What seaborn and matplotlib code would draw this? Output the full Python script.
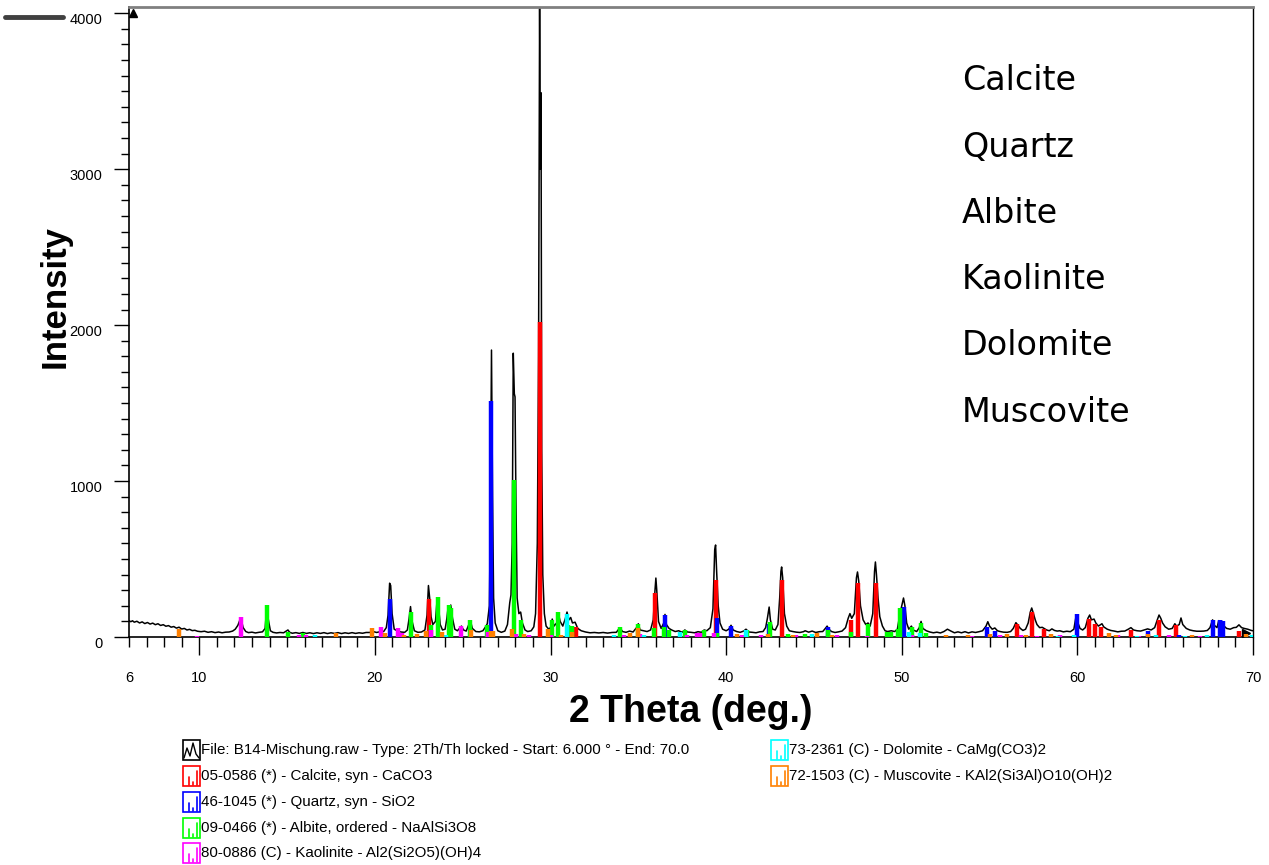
import matplotlib
matplotlib.use("Agg")
import matplotlib.pyplot as plt
import seaborn as sns
from matplotlib.lines import Line2D
from matplotlib.patches import Rectangle
from matplotlib.ticker import MultipleLocator
import matplotlib.transforms as mtransforms

raw_pattern = [
    (6.0, 105), (6.1, 98), (6.2, 104), (6.3, 95), (6.45, 101), (6.6, 90), (6.75, 97), (6.9, 86),
    (7.05, 93), (7.2, 83), (7.35, 89), (7.5, 79), (7.65, 85), (7.8, 74), (7.95, 79), (8.1, 69),
    (8.25, 73), (8.4, 63), (8.55, 67), (8.7, 57), (8.85, 63), (9.0, 51), (9.15, 55), (9.3, 45),
    (9.45, 49), (9.6, 41), (9.75, 43), (9.9, 37), (10.1, 34), (10.3, 37), (10.5, 30), (10.7, 34),
    (10.9, 28), (11.1, 32), (11.3, 27), (11.5, 31), (11.7, 32), (11.9, 38), (12.05, 50), (12.2, 75),
    (12.3, 105), (12.38, 115), (12.5, 60), (12.65, 35), (12.8, 28), (13.0, 31), (13.2, 26), (13.4, 30),
    (13.6, 33), (13.75, 55), (13.85, 200), (13.92, 120), (14.05, 40), (14.2, 30), (14.4, 26), (14.6, 29),
    (14.8, 27), (14.95, 38), (15.05, 45), (15.15, 30), (15.3, 24), (15.5, 28), (15.7, 23), (15.9, 29),
    (16.1, 23), (16.3, 27), (16.5, 22), (16.7, 27), (16.9, 23), (17.1, 28), (17.3, 22), (17.5, 27),
    (17.7, 23), (17.9, 28), (18.1, 22), (18.3, 27), (18.5, 23), (18.7, 28), (18.9, 23), (19.1, 27),
    (19.3, 24), (19.5, 29), (19.7, 29), (19.9, 35), (20.1, 29), (20.3, 34), (20.5, 35), (20.65, 60),
    (20.75, 140), (20.84, 345), (20.9, 330), (20.98, 150), (21.1, 50), (21.3, 38), (21.5, 32), (21.7, 30),
    (21.85, 45), (21.95, 120), (22.03, 195), (22.1, 110), (22.25, 40), (22.45, 30), (22.65, 32), (22.85, 45),
    (22.97, 140), (23.05, 330), (23.12, 250), (23.2, 130), (23.3, 80), (23.45, 100), (23.55, 250), (23.62, 200),
    (23.72, 80), (23.85, 45), (24.0, 50), (24.1, 120), (24.18, 200), (24.25, 175), (24.32, 205), (24.42, 120),
    (24.55, 50), (24.7, 40), (24.85, 60), (24.93, 70), (25.05, 45), (25.2, 38), (25.35, 80), (25.45, 100),
    (25.55, 55), (25.75, 35), (25.95, 33), (26.15, 40), (26.3, 65), (26.4, 85), (26.52, 200), (26.58, 800),
    (26.64, 1840), (26.7, 900), (26.76, 250), (26.85, 90), (27.0, 40), (27.2, 30), (27.4, 38), (27.55, 80),
    (27.68, 220), (27.75, 270), (27.82, 600), (27.88, 1820), (27.94, 1560), (27.98, 1540), (28.03, 900), (28.1, 250),
    (28.2, 150), (28.3, 160), (28.4, 90), (28.55, 45), (28.7, 35), (28.9, 40), (29.05, 65), (29.15, 150),
    (29.25, 600), (29.32, 1800), (29.38, 4040), (29.42, 3000), (29.46, 3490), (29.5, 1200), (29.56, 400), (29.65, 150),
    (29.75, 70), (29.9, 50), (30.0, 60), (30.1, 115), (30.2, 70), (30.35, 90), (30.45, 150), (30.55, 100),
    (30.7, 70), (30.85, 120), (30.94, 160), (31.05, 110), (31.15, 125), (31.25, 90), (31.4, 95), (31.55, 55),
    (31.75, 40), (32.0, 32), (32.25, 27), (32.5, 29), (32.75, 26), (33.0, 29), (33.25, 25), (33.5, 29),
    (33.75, 30), (33.95, 60), (34.1, 35), (34.3, 30), (34.5, 38), (34.7, 32), (34.9, 60), (35.0, 85),
    (35.1, 45), (35.3, 40), (35.5, 35), (35.7, 45), (35.85, 110), (35.95, 300), (36.0, 378), (36.05, 300),
    (36.15, 100), (36.3, 55), (36.45, 90), (36.52, 145), (36.6, 80), (36.75, 55), (36.9, 45), (37.1, 35),
    (37.3, 40), (37.5, 30), (37.65, 45), (37.8, 32), (38.0, 30), (38.2, 27), (38.4, 34), (38.6, 30),
    (38.75, 45), (38.9, 40), (39.1, 60), (39.25, 180), (39.35, 560), (39.4, 590), (39.46, 420), (39.55, 200),
    (39.65, 90), (39.8, 50), (40.0, 40), (40.15, 50), (40.28, 75), (40.4, 45), (40.6, 35), (40.8, 30),
    (41.0, 38), (41.13, 50), (41.3, 32), (41.5, 30), (41.7, 27), (41.9, 33), (42.1, 35), (42.25, 60),
    (42.35, 120), (42.45, 192), (42.52, 110), (42.65, 50), (42.8, 45), (42.95, 80), (43.05, 250), (43.12, 420),
    (43.16, 449), (43.22, 380), (43.32, 150), (43.45, 70), (43.6, 40), (43.8, 35), (44.0, 31), (44.2, 29),
    (44.4, 34), (44.5, 40), (44.7, 31), (44.9, 38), (45.1, 29), (45.3, 34), (45.5, 35), (45.65, 55),
    (45.75, 70), (45.85, 50), (46.0, 35), (46.2, 29), (46.4, 33), (46.6, 38), (46.8, 60), (46.95, 120),
    (47.05, 150), (47.15, 120), (47.3, 150), (47.42, 380), (47.48, 417), (47.55, 360), (47.65, 200), (47.8, 110),
    (47.95, 80), (48.08, 90), (48.2, 70), (48.35, 150), (48.45, 420), (48.5, 481), (48.56, 400), (48.65, 250),
    (48.75, 130), (48.9, 70), (49.05, 40), (49.2, 35), (49.4, 40), (49.6, 35), (49.75, 50), (49.9, 150),
    (50.0, 200), (50.1, 250), (50.18, 200), (50.28, 90), (50.4, 50), (50.55, 70), (50.65, 45), (50.85, 35),
    (51.0, 60), (51.1, 100), (51.2, 55), (51.4, 40), (51.6, 32), (51.8, 27), (52.0, 31), (52.2, 26),
    (52.4, 35), (52.6, 50), (52.8, 38), (53.0, 27), (53.2, 33), (53.4, 27), (53.6, 34), (53.8, 26),
    (54.0, 33), (54.2, 29), (54.4, 34), (54.6, 40), (54.8, 70), (54.9, 98), (55.0, 70), (55.15, 50),
    (55.3, 58), (55.45, 40), (55.6, 35), (55.8, 31), (56.0, 30), (56.2, 35), (56.35, 55), (56.5, 92),
    (56.62, 75), (56.75, 55), (56.9, 42), (57.05, 50), (57.2, 90), (57.32, 160), (57.4, 186), (57.5, 150),
    (57.6, 110), (57.7, 80), (57.85, 60), (58.0, 62), (58.1, 55), (58.25, 45), (58.4, 40), (58.55, 52),
    (58.7, 42), (58.85, 38), (59.0, 40), (59.2, 33), (59.4, 37), (59.6, 34), (59.8, 50), (59.92, 130),
    (60.0, 100), (60.15, 55), (60.3, 45), (60.45, 60), (60.6, 120), (60.7, 141), (60.8, 110), (60.95, 115),
    (61.05, 90), (61.2, 70), (61.4, 85), (61.5, 65), (61.7, 50), (61.9, 42), (62.1, 38), (62.3, 33),
    (62.5, 37), (62.7, 38), (62.9, 50), (63.05, 60), (63.2, 45), (63.4, 40), (63.6, 38), (63.8, 45),
    (64.0, 52), (64.2, 45), (64.4, 60), (64.55, 110), (64.65, 141), (64.75, 120), (64.85, 90), (65.0, 65),
    (65.2, 50), (65.4, 55), (65.55, 85), (65.65, 70), (65.8, 80), (65.9, 122), (66.0, 80), (66.2, 55),
    (66.4, 45), (66.6, 40), (66.8, 37), (67.0, 37), (67.2, 38), (67.4, 42), (67.55, 60), (67.7, 110),
    (67.8, 75), (67.95, 60), (68.05, 105), (68.15, 80), (68.25, 100), (68.35, 70), (68.5, 55), (68.7, 50),
    (68.9, 60), (69.05, 62), (69.2, 78), (69.35, 60), (69.5, 55), (69.7, 50), (69.9, 42), (70.0, 40),
]
raw_2theta = [p[0] for p in raw_pattern]
raw_counts = [p[1] for p in raw_pattern]

# --- reference stick patterns (position, scaled intensity) ---
calcite_pos = [23.06, 29.40, 31.44, 35.97, 39.40, 43.16, 47.12, 47.50, 48.51, 56.57, 57.40, 58.08,
               60.68, 60.98, 61.35, 63.05, 64.67, 65.60, 69.20]
calcite_int = [244, 2020, 64, 282, 365, 365, 109, 346, 346, 81, 160, 50,
               115, 83, 64, 45, 109, 77, 40]

quartz_pos = [20.86, 26.64, 36.54, 39.47, 40.29, 42.45, 45.79, 50.14, 54.87, 55.33, 59.96, 64.03,
              65.79, 67.74, 68.14, 68.31]
quartz_int = [244, 1513, 141, 122, 70, 83, 64, 192, 63, 40, 147, 38,
              15, 109, 110, 100]

albite_pos = [13.87, 15.04, 15.88, 22.04, 23.18, 23.58, 24.20, 24.32, 25.40, 26.38, 27.92, 28.30,
              30.10, 30.45, 31.00, 31.20, 33.96, 34.98, 35.90, 36.47, 36.75, 37.65, 38.75, 39.50,
              41.20, 42.50, 43.50, 44.50, 45.78, 47.10, 48.08, 49.14, 49.40, 49.77, 49.90, 50.56,
              51.10, 51.40]
albite_int = [205, 32, 25, 162, 77, 256, 205, 186, 109, 77, 1006, 109,
              109, 160, 77, 70, 62, 83, 58, 64, 45, 45, 45, 25,
              45, 95, 20, 20, 45, 30, 83, 30, 32, 50, 186, 64,
              90, 25]

kaolinite_pos = [9.90, 12.36, 15.70, 16.10, 20.36, 21.30, 21.55, 23.20, 24.90, 26.44, 28.05, 28.80,
                 30.00, 34.20, 35.10, 37.80, 38.34, 38.50, 39.30, 40.90, 42.00, 44.00, 46.30, 48.00,
                 50.60, 54.00, 55.60, 56.80, 57.70, 59.00, 62.30, 63.50, 65.20, 67.00]
kaolinite_int = [8, 128, 10, 10, 62, 55, 28, 45, 70, 30, 20, 15,
                 12, 10, 20, 15, 28, 28, 28, 12, 10, 10, 10, 8,
                 10, 8, 12, 10, 8, 10, 12, 8, 10, 8]

dolomite_pos = [16.60, 24.07, 30.94, 33.60, 35.30, 37.35, 41.13, 44.90, 50.40, 51.05, 58.90, 59.80,
                63.40, 64.50, 66.10, 67.40, 69.95]
dolomite_int = [10, 10, 147, 10, 15, 32, 45, 20, 32, 26, 8, 15,
                8, 10, 8, 10, 15]

muscovite_pos = [8.84, 17.77, 19.86, 20.60, 21.65, 22.40, 22.90, 23.80, 25.46, 26.60, 26.72, 27.80,
                 28.50, 29.86, 30.60, 31.20, 34.50, 35.00, 40.60, 42.40, 43.80, 45.20, 46.00, 52.50,
                 53.80, 55.00, 56.00, 57.10, 58.50, 61.80, 62.20, 64.00, 66.50, 69.60]
muscovite_int = [50, 25, 55, 25, 15, 20, 40, 30, 45, 40, 40, 50,
                 20, 50, 15, 30, 26, 58, 20, 20, 15, 26, 15, 15,
                 15, 20, 20, 15, 20, 25, 15, 20, 15, 20]

phase_names = ["Calcite", "Quartz", "Albite", "Kaolinite", "Dolomite", "Muscovite"]
legend_labels = [
    "File: B14-Mischung.raw - Type: 2Th/Th locked - Start: 6.000 \u00b0 - End: 70.0",
    "05-0586 (*) - Calcite, syn - CaCO3",
    "46-1045 (*) - Quartz, syn - SiO2",
    "09-0466 (*) - Albite, ordered - NaAlSi3O8",
    "80-0886 (C) - Kaolinite - Al2(Si2O5)(OH)4",
    "73-2361 (C) - Dolomite - CaMg(CO3)2",
    "72-1503 (C) - Muscovite - KAl2(Si3Al)O10(OH)2",
]
phase_colors = ["#ff0000", "#0000ff", "#00ff00", "#ff00ff", "#00ffff", "#ff8000"]

sns.set_style("white")
plt.rcParams["font.family"] = ["Liberation Sans", "DejaVu Sans"]
plt.rcParams["text.color"] = "black"
plt.rcParams["axes.labelcolor"] = "black"
plt.rcParams["xtick.color"] = "black"
plt.rcParams["ytick.color"] = "black"

W, H = 1269, 865
fig = plt.figure(figsize=(W / 100, H / 100), dpi=100)


def fx(px):
    return px / W


def fy(py):
    return 1 - py / H


ax = fig.add_axes([fx(129), fy(637), fx(1253) - fx(129), fy(7) - fy(637)])

# raw scan
sns.lineplot(x=raw_2theta, y=raw_counts, color="black", lw=1.1, estimator=None,
             sort=False, ax=ax, zorder=2)

# stick patterns drawn on top of the scan
sticks = [
    (calcite_pos, calcite_int), (quartz_pos, quartz_int), (albite_pos, albite_int),
    (kaolinite_pos, kaolinite_int), (dolomite_pos, dolomite_int), (muscovite_pos, muscovite_int),
]
for (pos, inten), col in zip(sticks, phase_colors):
    ax.vlines(pos, 0, inten, colors=col, lw=3.2, zorder=3)

ax.set_xlim(6, 70)
ax.set_ylim(0, 4040)

# axes look
for s in ["left", "bottom"]:
    ax.spines[s].set_color("black")
    ax.spines[s].set_linewidth(1.2)
ax.spines["top"].set_color("#808080")
ax.spines["top"].set_linewidth(2)
ax.spines["right"].set_color("black")
ax.spines["right"].set_linewidth(1)

ax.set_xticks([6, 10, 20, 30, 40, 50, 60, 70])
ax.xaxis.set_minor_locator(MultipleLocator(1))
ax.set_yticks([0, 1000, 2000, 3000, 4000])
ax.yaxis.set_minor_locator(MultipleLocator(100))
ax.tick_params(axis="x", which="major", direction="out", length=13, width=1, pad=11.5,
               labelsize=10.5, bottom=True)
ax.tick_params(axis="x", which="minor", direction="out", length=7, width=1, bottom=True)
ax.tick_params(axis="y", which="major", direction="out", length=11, width=1, pad=8,
               labelsize=10.5, left=True)
ax.tick_params(axis="y", which="minor", direction="out", length=6, width=1, left=True)
# the 6 tick is short like the minor ones
ax.xaxis.get_major_ticks()[0].tick1line.set_markersize(7)

shift = mtransforms.ScaledTranslation(0, -5 / 100, fig.dpi_scale_trans)
for lab in ax.get_yticklabels():
    lab.set_transform(lab.get_transform() + shift)

ax.set_xlabel("2 Theta (deg.)", fontsize=27, fontweight="bold")
ax.set_ylabel("Intensity", fontsize=25, fontweight="bold")
ax.xaxis.label.set_va("center")
ax.xaxis.set_label_coords(0.5, (637 - 712) / 630)
ax.yaxis.label.set_va("center")
ax.yaxis.label.set_ha("center")
ax.yaxis.set_label_coords((55 - 129) / 1124, (637 - 296) / 630)

# little end arrows of the axes
ax.plot([0.004], [0.99], marker="^", ms=6, color="black", transform=ax.transAxes,
        clip_on=False)
ax.plot([0.994], [0.006], marker=">", ms=6, color="black", transform=ax.transAxes,
        clip_on=False)

# phase names
for i, name in enumerate(phase_names):
    fig.text(fx(962), fy(81 + i * 66.2), name, fontsize=24, ha="left", va="center",
             family=["DejaVu Sans"])

# stray bar at top left
fig.add_artist(Line2D([fx(5), fx(63)], [fy(17), fy(17)], color="#404040", lw=3.5))

# legend block
legend_colors = ["black"] + phase_colors
slots = [(183, 750), (183, 776), (183, 802), (183, 828), (183, 853), (771, 750), (771, 776)]
for (x0, yc), lab, col in zip(slots, legend_labels, legend_colors):
    fig.add_artist(Rectangle((fx(x0), fy(yc + 10)), fx(17), 20 / H, fill=False,
                             edgecolor=col, lw=1.2))
    if col == "black":
        zx = [x0 + 1, x0 + 4, x0 + 7, x0 + 10, x0 + 13, x0 + 16]
        zy = [yc + 8, yc - 2, yc + 6, yc - 7, yc + 4, yc + 8]
        fig.add_artist(Line2D([fx(v) for v in zx], [fy(v) for v in zy], color="black", lw=1))
    else:
        for sx, top in [(x0 + 6, yc + 1), (x0 + 10, yc + 6), (x0 + 14, yc - 5)]:
            fig.add_artist(Line2D([fx(sx), fx(sx)], [fy(yc + 9), fy(top)], color=col, lw=1.2))
    fig.text(fx(x0 + 18), fy(yc), lab, fontsize=10.9, ha="left", va="center")

fig.savefig("out.png", dpi=100)
